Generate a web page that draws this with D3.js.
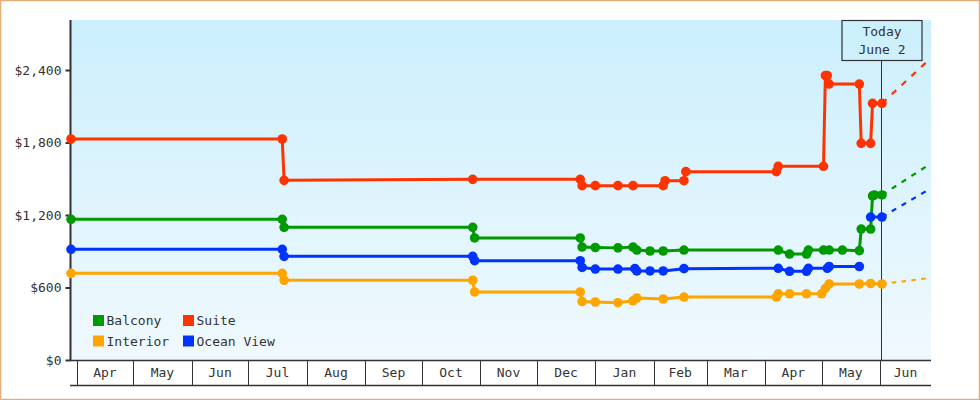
<!DOCTYPE html>
<html><head><meta charset="utf-8">
<script src="https://cdn.jsdelivr.net/npm/d3@7"></script>
<style>
body{margin:0;background:#fff}
svg{display:block}
text{font-family:"DejaVu Sans Mono",monospace;font-size:13px;fill:#333}
</style>
</head><body>
<svg id="chart" width="980" height="400"></svg>
<script>
// ---------- DATA ----------
const seriesNames  = ["Balcony", "Suite", "Interior", "Ocean View"];
const seriesColors = ["#009900", "#ff3300", "#ffa500", "#0033ff"];

const balconyDates  = ["2014-03-29","2014-07-19","2014-07-20","2014-10-28","2014-10-29","2014-12-24","2014-12-25","2015-01-01","2015-01-13","2015-01-21","2015-01-23","2015-01-30","2015-02-06","2015-02-17","2015-04-08","2015-04-14","2015-04-23","2015-04-24","2015-05-02","2015-05-05","2015-05-12","2015-05-21","2015-05-22","2015-05-27","2015-05-28","2015-05-29","2015-06-02"];
const balconyValues = [1164,1164,1098,1098,1010,1010,935,931,928,935,910,902,902,910,910,877,877,910,910,910,910,905,1084,1084,1358,1366,1366];

const suiteDates  = ["2014-03-29","2014-07-19","2014-07-20","2014-10-28","2014-12-24","2014-12-25","2015-01-01","2015-01-13","2015-01-21","2015-02-06","2015-02-07","2015-02-17","2015-02-18","2015-04-07","2015-04-08","2015-05-02","2015-05-03","2015-05-04","2015-05-05","2015-05-21","2015-05-22","2015-05-27","2015-05-28","2015-06-02"];
const suiteValues = [1829,1829,1487,1495,1495,1443,1443,1443,1443,1443,1484,1484,1559,1559,1603,1603,2354,2354,2284,2284,1793,1793,2124,2124];

const interiorDates  = ["2014-03-29","2014-07-19","2014-07-20","2014-10-28","2014-10-29","2014-12-24","2014-12-25","2015-01-01","2015-01-13","2015-01-21","2015-01-23","2015-02-06","2015-02-17","2015-04-07","2015-04-08","2015-04-14","2015-04-23","2015-05-01","2015-05-03","2015-05-05","2015-05-21","2015-05-27","2015-06-02"];
const interiorValues = [717,717,660,660,563,563,484,480,474,490,513,505,521,521,548,548,548,548,592,629,629,633,629];

const oceanDates  = ["2014-03-29","2014-07-19","2014-07-20","2014-10-28","2014-10-29","2014-12-24","2014-12-25","2015-01-01","2015-01-13","2015-01-22","2015-01-23","2015-01-30","2015-02-06","2015-02-17","2015-04-08","2015-04-14","2015-04-23","2015-04-24","2015-05-04","2015-05-05","2015-05-21","2015-05-24","2015-05-27","2015-06-02"];
const oceanValues = [916,916,858,858,822,822,766,753,753,756,737,737,737,756,759,734,734,759,759,774,774,null,1183,1183];

// projected prices at the end of the visible range
const projectionEnd    = "2015-06-28";
const projectionValues = [1627, 2500, 680, 1422];

const todayDate  = "2015-06-02";
const todayLines = ["Today", "June 2"];

const domainStart = "2014-03-29";
const monthLabels = ["Apr","May","Jun","Jul","Aug","Sep","Oct","Nov","Dec","Jan","Feb","Mar","Apr","May","Jun"];
const yTicks = [0, 600, 1200, 1800, 2400];
const yMax = 2814;

// ---------- BUILD ----------
const parse = d3.utcParse("%Y-%m-%d");
const seriesData = [
  [balconyDates, balconyValues],
  [suiteDates, suiteValues],
  [interiorDates, interiorValues],
  [oceanDates, oceanValues]
].map(([ds, vs], i) => ({
  name: seriesNames[i], color: seriesColors[i],
  points: ds.map((d, j) => ({date: parse(d), v: vs[j]}))
}));

const W = 980, H = 400;
const plot = {left: 71, right: 931, top: 20, bottom: 360};

const x = d3.scaleUtc().domain([parse(domainStart), parse(projectionEnd)]).range([plot.left, plot.right]);
const y = d3.scaleLinear().domain([0, yMax]).range([plot.bottom, plot.top]);

const svg = d3.select("#chart");
const defs = svg.append("defs");
const grad = defs.append("linearGradient").attr("id", "bg").attr("x1", 0).attr("y1", 0).attr("x2", 0).attr("y2", 1);
grad.append("stop").attr("offset", "0%").attr("stop-color", "#cbeffc");
grad.append("stop").attr("offset", "100%").attr("stop-color", "#f0f9fe");
defs.append("clipPath").attr("id", "clip").append("rect")
  .attr("x", plot.left).attr("y", plot.top).attr("width", plot.right - plot.left).attr("height", plot.bottom - plot.top);

// outer border
svg.append("rect").attr("x", 0.5).attr("y", 0.5).attr("width", W - 1).attr("height", H - 1)
  .attr("fill", "#fff").attr("stroke", "#e6ad78").attr("stroke-width", 1.5);

// plot background
svg.append("rect").attr("x", plot.left).attr("y", plot.top)
  .attr("width", plot.right - plot.left).attr("height", plot.bottom - plot.top)
  .attr("fill", "url(#bg)");

// Y axis
const yAxis = d3.axisLeft(y).tickValues(yTicks).tickFormat(d3.format("$,")).tickSize(5).tickPadding(4);
const yg = svg.append("g").attr("transform", `translate(${plot.left - 0.5},0)`).call(yAxis);
yg.select(".domain").remove();
yg.selectAll(".tick line").attr("stroke", "#333").attr("stroke-width", 2);
yg.selectAll(".tick text").attr("font-family", null).attr("font-size", null).attr("fill", "#333");
svg.append("line").attr("x1", plot.left - 0.5).attr("x2", plot.left - 0.5)
  .attr("y1", plot.top).attr("y2", plot.bottom + 1)
  .attr("stroke", "#333").attr("stroke-width", 2);

// X axis: month cells
const months = d3.utcMonth.range(d3.utcMonth.ceil(x.domain()[0]), x.domain()[1]);
const xg = svg.append("g");
xg.append("line").attr("x1", plot.left - 1).attr("x2", plot.right).attr("y1", plot.bottom + 0.5).attr("y2", plot.bottom + 0.5)
  .attr("stroke", "#333").attr("stroke-width", 1.5);
xg.append("line").attr("x1", plot.left - 1).attr("x2", plot.right).attr("y1", 385.5).attr("y2", 385.5)
  .attr("stroke", "#333").attr("stroke-width", 1.5);
xg.selectAll("line.div").data(months).join("line").attr("class", "div")
  .attr("x1", d => Math.round(x(d)) + 0.5).attr("x2", d => Math.round(x(d)) + 0.5)
  .attr("y1", plot.bottom).attr("y2", 385)
  .attr("stroke", "#333").attr("stroke-width", 1);
xg.selectAll("text.mon").data(months).join("text").attr("class", "mon")
  .attr("x", (d, i) => (x(d) + Math.min(x(d3.utcMonth.offset(d, 1)), plot.right)) / 2)
  .attr("y", 377).attr("text-anchor", "middle")
  .text((d, i) => monthLabels[i]);

// Today marker
const tx = Math.round(x(parse(todayDate))) - 0.5;
svg.append("line").attr("x1", tx).attr("x2", tx).attr("y1", 61).attr("y2", plot.bottom)
  .attr("stroke", "#333").attr("stroke-width", 1);
svg.append("rect").attr("x", tx - 39.5).attr("y", plot.top + 0.5).attr("width", 80).attr("height", 40)
  .attr("fill", "none").attr("stroke", "#333").attr("stroke-width", 1.2);
svg.append("text").attr("x", tx + 0.5).attr("y", 36).attr("text-anchor", "middle").text(todayLines[0]);
svg.append("text").attr("x", tx + 0.5).attr("y", 54).attr("text-anchor", "middle").text(todayLines[1]);

// Series lines
const line = d3.line().defined(d => d.v != null).x(d => x(d.date)).y(d => y(d.v));
const gLines = svg.append("g").attr("clip-path", "url(#clip)");
const gDots = svg.append("g");

seriesData.forEach((s, i) => {
  const last = s.points[s.points.length - 1];
  const p0 = [x(last.date), y(last.v)];
  const p1 = [x(parse(projectionEnd)), y(projectionValues[i])];
  const dx = p1[0] - p0[0], dy = p1[1] - p0[1];
  const f = Math.sqrt(dx * dx + dy * dy) / dx;
  gLines.append("line")
    .attr("x1", p0[0]).attr("y1", p0[1]).attr("x2", p1[0]).attr("y2", p1[1])
    .attr("stroke", s.color).attr("stroke-width", 2.2)
    .attr("stroke-dasharray", `${4.5 * f},${5.3 * f}`);
});

seriesData.forEach(s => {
  gLines.append("path").datum(s.points).attr("d", line)
    .attr("fill", "none").attr("stroke", s.color).attr("stroke-width", 3)
    .attr("stroke-linejoin", "round");
  gDots.selectAll(null).data(s.points.filter(d => d.v != null)).join("circle")
    .attr("cx", d => x(d.date)).attr("cy", d => y(d.v)).attr("r", 4.8)
    .attr("fill", s.color);
});

// Legend
const legendPos = [[93, 315], [183, 315], [93, 335.5], [183, 335.5]];
const lg = svg.append("g");
seriesNames.forEach((n, i) => {
  const [lx, ly] = legendPos[i];
  lg.append("rect").attr("x", lx).attr("y", ly).attr("width", 11).attr("height", 11).attr("fill", seriesColors[i]);
  lg.append("text").attr("x", lx + 13.5).attr("y", ly + 10).text(n);
});
</script>
</body></html>
